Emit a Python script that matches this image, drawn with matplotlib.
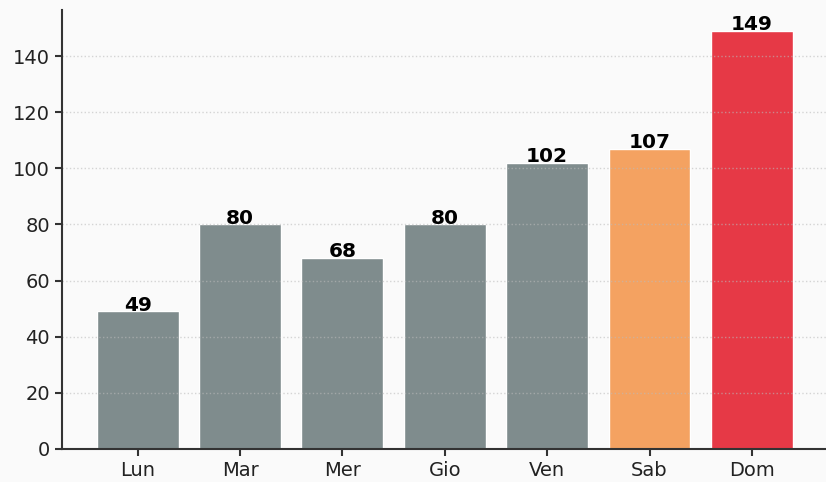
import matplotlib
matplotlib.use("Agg")
import matplotlib.pyplot as plt

days = ["Lun", "Mar", "Mer", "Gio", "Ven", "Sab", "Dom"]
values = [49, 80, 68, 80, 102, 107, 149]
colors = ["#7f8c8d", "#7f8c8d", "#7f8c8d", "#7f8c8d", "#7f8c8d", "#f4a261", "#e63946"]

fig = plt.figure(figsize=(8.26, 4.82), dpi=100)
fig.patch.set_facecolor("#fafafa")
ax = fig.add_axes([0.075, 0.0685, 0.927, 0.911])
ax.set_facecolor("#fafafa")

bars = ax.bar(days, values, color=colors, width=0.8, edgecolor="white", linewidth=1)
for b, v in zip(bars, values):
    ax.text(b.get_x() + b.get_width() / 2, v + 0.3, str(v), ha="center", va="baseline",
            fontsize=14.5, fontweight="bold", color="black")

ax.grid(axis="y", linestyle=":", color="#bbbbbb", linewidth=1.0, alpha=0.6)
for s in ["top", "right"]:
    ax.spines[s].set_visible(False)
for s in ["left", "bottom"]:
    ax.spines[s].set_color("#333333")
    ax.spines[s].set_linewidth(1.5)
ax.tick_params(axis="both", labelsize=14, colors="#333333", length=5, width=1.5)
ax.tick_params(axis="both", labelcolor="#222222")

fig.savefig("out.png", dpi=100, facecolor=fig.get_facecolor())
